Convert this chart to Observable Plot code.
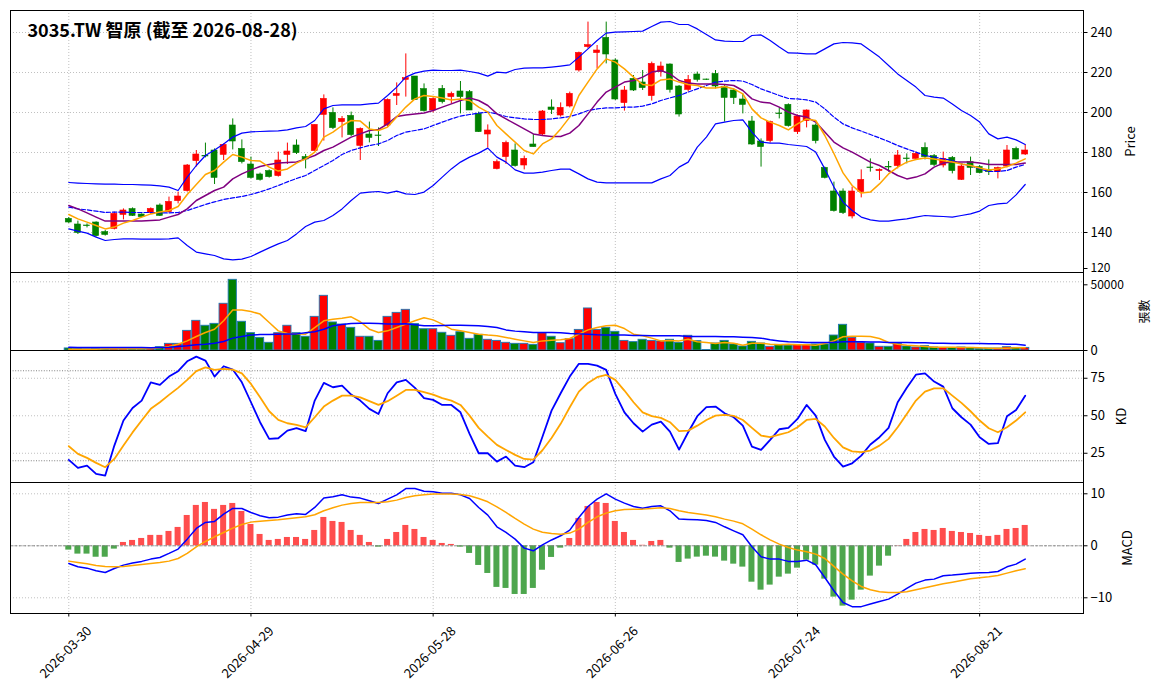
<!DOCTYPE html>
<html><head><meta charset="utf-8">
<script src="https://cdn.jsdelivr.net/npm/d3@7"></script>
<script src="https://cdn.jsdelivr.net/npm/@observablehq/plot@0.6"></script>
<style>
body{margin:0;background:#fff;}
#wrap{position:relative;width:1163px;height:698px;overflow:hidden;background:#fff;}
#wrap svg{position:absolute;left:0;overflow:visible;}
</style></head><body><div id="wrap"></div>
<script>
const title = "3035.TW 智原 (截至 2026-08-28)";
const tickIdx = [0, 20, 40, 60, 80, 100];
const tickLabels = ["2026-03-30","2026-04-29","2026-05-28","2026-06-26","2026-07-24","2026-08-21"];
const priceTicks = [120,140,160,180,200,220,240];
const volTicks = [0, 50000];
const kdTicks = [25, 50, 75];
const macdTicks = [-10, 0, 10];

const openP = [146.8,144,143.5,145,140.2,141.8,148.8,151.7,149,149.7,
153.5,150.2,155.7,160.7,175.7,178.2,181,178.8,193.5,181.8,
174,169,170.7,168.2,178.8,183.5,177.7,180.7,198.8,199.8,
195.2,198.3,183.3,189,188.5,193.5,208.3,216.3,218,211.7,
201,211.8,207.7,210.5,210.2,199.3,189,171.7,177.7,181,
173.5,184,189,202.5,198.5,203,221,232.7,229.7,237.3,
226,204.7,216.8,215,208.2,220.2,224,213,211.3,219,
216.5,219.3,212.7,211,206.5,195.5,185.5,185.7,199.5,203.8,
190.2,195.7,193.5,172.3,160.5,160.5,148,160.2,172.5,170.7,
172.8,173.2,177,176.8,182.3,178.2,173.5,177.3,166.3,175.2,
172.7,171.3,170.2,173,181.8,179];
const highP = [147.5,145.7,144.3,145.3,141,150.2,151.8,152.3,149.3,152.3,
154.3,157.7,160.2,174,181,184.7,181.8,184.3,196.8,186.3,
177.7,169.7,171.3,180.2,184.7,186.3,179,193.8,208.8,202.3,
198,200.2,192.3,195.2,192.3,206.8,214.8,229.3,218,214.3,
207.3,213.5,210.2,215.5,211,200.2,193.8,176.3,185.7,184.3,
178.2,189,201,206.3,204.8,210.2,230.2,245.2,233.5,245.2,
226.8,213,218.5,221,225.2,225.2,224.3,213.5,218.5,220.2,
216.7,221,213.5,211.8,209.3,198,186.8,195.7,202.3,204.3,
198.8,201.3,194.3,172.7,165.2,161.8,162.7,171.3,176.8,171.8,
175.5,181,179.3,180.2,184.8,179,180.2,178,174.3,177.7,
173.5,176.3,172.7,183.5,182.7,183.8];
const lowP = [144.5,139,142.3,137.7,138.2,141.3,146.3,148,147.3,149,
148,149.7,154.3,160.2,172.7,177.3,164,176,181.3,174.3,
166.8,165.7,167.2,167.7,174,179,171.8,180.7,185.7,191.5,
187.3,188,176,184.8,183,192.7,203.5,207.7,206,200.2,
199.8,204.3,204.3,199.3,201,190,182.2,171.3,174,172.7,
171.3,182.7,188.5,199,197.7,202.3,220.2,231.8,221.8,224.3,
206,200.7,210.5,211,205.7,217.7,209.7,197.7,210.2,215.2,
216,211.8,195.2,204,199.3,183.5,172.7,184.7,196.8,192.7,
189,192.3,184.3,166.8,150.2,149,146.8,157.3,170.2,166,
170.2,171.8,174.3,176.3,176.3,173,172.3,169.3,166,168.5,
169.3,168.5,166.8,172.3,176.3,178.5];
const closeP = [145,139.8,143.2,138.2,138.8,149.3,151,148.3,147.7,151.8,
148.3,155.3,158,173.5,179,178,167.3,183.8,185.5,175.2,
167.3,166.3,167.7,176,180.5,179.7,176.5,193.8,206.8,192.2,
196.8,188.7,191.8,187.3,188.3,206.3,209.3,217.2,206.3,200.7,
206.8,205.2,209.3,207.7,201,190.2,191,175.2,184.8,173.2,
176.8,182.7,200.5,201.3,202.3,209.3,229.8,233.7,231,229,
206.5,211,211,212.2,224.3,223,211.3,199,216.3,216.3,
216.3,213,207.3,207.2,203.8,184,182.7,195.2,199.2,193.2,
198,201,185.7,167.3,150.7,149.7,160.5,166.3,172.2,171.3,
172.5,178.5,176.7,179.3,177.7,173.8,176.8,170.7,173,172.3,
169.7,170.2,172.2,181,176.5,181];
const ma5 = [149,146.8,145.2,143.5,141.8,142.7,144.7,146,147.7,149.3,
150.2,151,153,159,164,169,171,175.2,179,177.7,
176,175.7,172.7,170.7,171.8,174.7,176.8,180.2,187.7,190.2,
193.5,196,195.7,191.8,191,192.7,197.7,202.7,206.8,208.5,
208,207.3,206.3,206.8,206,202.7,200.2,193.5,189.3,185.2,
181,179.3,184.3,186.8,191.8,197.7,208.5,215.2,221.8,226.8,
225.2,221.8,217.7,214,213.5,216.3,216.8,215.2,214,213.5,
212.3,212.3,213,211.8,209.3,201.8,197.3,195.2,193.5,191.3,
194.3,196.8,196,188.5,179.5,169.8,163.5,159.7,160.2,164.3,
169.3,172.7,175.2,176.5,177.2,176.8,176,175.2,174.3,173.5,
172.3,171.3,171.7,173,174.7,176.8];
const ma10 = [153.5,151.8,149.8,147.7,145.7,145.7,145.7,145.7,145.8,146,
146.3,147.7,149,151.8,156,158.5,161,162.7,166.8,169.3,
171.3,173,174,174.7,175,175.3,176.8,178.5,181,182.7,
185.2,187.7,189.3,191,191.5,194.3,198,198.8,199.3,199.8,
201,202.7,204.3,206,207.3,206,203.5,199.3,196.8,194.3,
191.8,189.3,188.5,188,188,189.7,193.5,199.3,205.2,210.2,
212.7,215.2,216,217.7,220.2,221,219.3,216,214.7,214.3,
214.3,214.3,214,213.5,211,206.8,205.2,204.7,202.7,200.2,
198.5,197.7,195.2,190.2,185.2,182.3,180.2,177.7,175.2,173.5,
171,168.5,166.8,167.7,169.3,172.7,174.7,175.2,175.2,175.2,
174.7,174,174,174,174,174.7];
const ma20 = [152.7,151.8,151.3,150.7,150,150.2,150.2,150,150,150,
149.8,149.8,150,151,152.5,154,155.3,156.5,157.3,158,
159,160.3,161.8,163.5,165.3,167,168.5,171,173.5,176,
179,181,182.3,183.5,184.3,186,188.5,190.2,191,191.8,
193.5,195.2,196.8,198.2,199,199.7,200.2,199.3,198,197.3,
196.8,196.5,196.5,196.8,197.3,198,199.3,201,201.8,202.3,
202.3,202.7,202.7,203.2,204.3,206,207.3,208.5,210.2,211.8,
213.5,215.2,215.7,216,215.7,214,211.8,210.2,208.5,207,
206.8,206.3,205.2,201.8,197.7,194.3,192.3,190.7,189,187.3,
185.5,183.5,181.8,180.2,178.5,177.7,176.8,176,174.3,173.5,
171.8,170.5,170.5,171,172.7,174];
const bbUpper = [165,164.7,164.5,164.3,164.2,164.2,164,164,163.8,163.7,
163.3,162.7,161,167.7,173.5,178.5,181.3,184.3,187.7,189.7,
190.3,190.5,190.7,190.8,191.3,192.3,193,196,201.8,203.5,
203.8,203.8,203.8,204.3,204.7,208.5,212.7,217.7,219.7,220.7,
221.2,221,221,221.2,220.5,219.7,218.2,220.2,219.8,221.5,
222.2,222.3,222.3,222.7,223.2,223.8,227.7,231.8,236,239.7,
240.2,240.3,240.5,240.7,243,245.2,245.5,244,244,241.8,
239,236.3,235.7,235.5,235.5,238.5,238.8,236,232.7,229.8,
229.7,229.3,229.3,231.8,234.3,235,234.8,234.3,231,227.7,
223.5,219.3,216,212.7,208.5,207.7,207.2,204.3,201,198.5,
195.2,189.3,186.8,187.7,186.3,184];
const bbLower = [141.8,140.7,139.7,137.7,136,136.5,136.8,136.8,136.7,136.7,
136.7,136.8,137.3,133.5,130.2,129.3,128.5,126.8,126.3,126.7,
128,130.2,132.3,134.3,136,139.3,143,145.2,146,148.5,
151.8,156,159.7,160.2,160.5,159.7,160.7,159.3,159,160.2,
163.5,167.7,171.8,175.2,177.7,179.7,182.2,177.7,175.2,171.3,
169.7,169.7,170.2,171,171.7,171.7,169.3,166.8,165.2,164.8,
164.8,164.8,164.8,164.8,164.8,166.8,168.5,172.7,175.2,182.7,
187.7,194.3,195.2,196,196.3,190.2,185.2,184.7,184.7,184,
183.5,183,180.2,171.8,162.7,155.2,151,147.7,146.3,145.7,
145.7,146.3,146.8,147.7,148.5,148.2,148,147.7,148.5,149.3,
150.7,153.5,154.3,154.7,158.8,164];
const volume = [1500,1200,900,1100,800,1300,1200,1000,900,1100,
2400,4850,4850,14300,21600,18000,19400,34000,51450,20900,
12600,9200,5600,12600,18000,12600,10000,24500,39800,20400,
18900,16500,10000,10000,7000,24500,27400,29600,19200,15500,
15500,12900,10700,13300,8500,11400,7800,7000,5600,4850,
4850,4100,12600,10000,5300,8250,15000,30600,15000,16500,
13600,7000,6100,7800,7000,6600,7800,5600,10700,6800,
300,5100,7000,4400,2900,6300,5100,2700,4100,3600,
4100,4100,4400,4400,10900,18700,9200,5600,5100,2700,
2700,4850,2900,2200,3150,2200,1900,1900,2200,1900,
1200,1450,1450,2400,1900,1900];
const volMa5 = [970,970,970,970,1200,1200,1200,1200,1200,1450,
1950,2900,4600,7000,10200,13100,15500,21600,29400,29400,
28400,26500,20400,14300,12400,12100,11900,16700,21600,22800,
23500,24500,20900,15500,13100,14300,16700,19200,21600,23800,
22300,19200,15500,14300,13100,11900,11200,10700,9500,8250,
7000,5800,7000,7500,7800,8700,11900,15000,16700,18000,
18400,16000,11900,10700,9000,7000,7300,7000,8250,6300,
5800,5100,5800,5300,3900,5300,5300,4600,4100,4600,
4100,4100,3900,5100,7000,10000,10400,10400,10200,8700,
5800,4600,3900,3400,2900,2400,2400,2400,2200,2200,
1950,1700,1700,1700,1950,1950];
const volMa20 = [2400,2200,2200,2200,2200,2200,2200,2200,2200,1950,
2200,2400,2900,3400,4100,4600,5300,6600,9000,10200,
11200,11600,11600,11900,12100,12100,12900,13600,15500,18000,
18900,19700,19900,19900,19700,19200,19200,19400,18700,18000,
18000,18200,18400,18400,18200,18000,17500,16700,15000,14100,
13600,13100,13100,13100,12900,12400,12100,11900,11400,11200,
11200,11200,10900,10900,10700,10700,10700,10700,10200,10200,
10200,10200,10000,10000,9700,9500,9000,7800,7000,6300,
6100,5800,5800,5800,5800,6300,6300,6300,6100,6100,
5800,5800,5800,5600,5600,5300,5300,5100,5100,5100,
5100,4850,4850,4600,4600,3900];
const kLine = [20.6,15.2,16.8,11.2,10.1,30.1,46.8,55.2,60.1,72.3,
70.6,76.1,79.7,86.3,89.4,86.8,76.1,83,80.8,72.3,
59,45.7,34.6,35,40.1,41.7,39.7,60.1,71.9,69,
70.1,64.1,60.1,54.6,51.2,65,72.3,73.9,68.6,61.7,
60.6,57.2,57.2,52.3,37.9,25,25,19.4,22.8,16.8,
15.7,19,36,53.4,65,76.1,84.6,84.6,83.4,80.6,
64.6,52.3,45,39.4,44.1,46.1,39.4,27.4,39,49.7,
55.7,56.1,51.7,49,43.4,29.4,27.2,33.9,41,41.9,
47.9,57.2,50.1,33.9,22.8,16.1,18.3,23.4,30.8,35.7,
41.9,59,68.6,77.4,78.3,72.8,69.4,55,49,44.1,
35.7,31.2,31.7,49.7,53.9,63.4];
const dLine = [29.7,24.6,21.9,18.6,15.7,21.2,30.1,38.9,46.8,54.6,
59,63.9,68.6,73.9,79.7,82.3,80.6,81.2,80.8,78.3,
71.2,62.3,53,47.2,45,43.9,42.3,49,56.1,60.1,
63.4,63.4,62.3,59.7,57.2,59.7,63.4,67.2,67.2,65.7,
64.1,61.7,60.1,57.2,50.1,41.9,36.1,30.6,27.2,23.9,
21.2,20.8,27,35.2,44.6,55.7,66.1,71.9,75.7,77.2,
73.9,66.8,59,52.3,49.7,48.6,45.7,39.7,40.1,43.4,
47.2,50.1,50.6,49.9,47.2,41.9,36.8,35.7,37.4,39,
42.3,47.2,47.9,42.8,35.2,28.9,26.3,25.7,26.8,30.1,
34.6,42.3,51.2,60.1,66.1,68.3,68.3,63.4,58.6,53,
46.8,41.7,39,42.3,46.8,52.3];
const dif = [-3.4,-4.04,-4.3,-4.8,-5.13,-4.36,-3.72,-3.33,-3.0,-2.56,
-2.24,-1.47,-0.64,1.28,3.33,4.49,4.68,6.09,7.18,7.18,
6.41,5.77,5.38,5.51,5.9,6.15,6.03,7.37,9.17,9.42,
9.8,9.36,9.17,8.65,8.14,8.97,9.8,11.0,11.0,10.5,
10.4,10.1,10.1,9.8,9.1,7.37,5.9,3.65,2.56,1.28,
-0.45,-0.96,0.16,1.12,1.92,3.0,5.45,7.56,8.97,10.0,
8.97,8.2,7.56,7.24,7.56,7.69,6.73,5.13,5.06,5.0,
4.87,4.49,3.65,2.88,2.12,-0.19,-2.12,-2.56,-2.56,-3.0,
-3.0,-2.76,-3.65,-6.09,-8.65,-10.9,-11.7,-11.7,-11.2,-10.7,
-10.26,-9.3,-8.2,-7.18,-6.6,-6.41,-5.77,-5.64,-5.45,-5.26,
-5.19,-5.13,-4.94,-4.04,-3.53,-2.56];
const dea = [-2.95,-3.2,-3.46,-3.78,-3.97,-4.04,-3.97,-3.78,-3.59,-3.4,
-3.2,-2.95,-2.44,-1.47,-0.19,0.83,1.73,2.56,3.4,4.1,
4.55,4.74,4.87,5.0,5.19,5.38,5.58,5.96,6.73,7.31,
7.82,8.14,8.33,8.33,8.33,8.46,8.78,9.3,9.62,9.8,
9.94,9.94,9.94,9.87,9.62,9.1,8.46,7.5,6.41,5.26,
4.17,3.2,2.6,2.37,2.24,2.44,3.2,4.49,5.58,6.28,
6.73,6.99,7.05,7.05,7.18,7.31,7.18,6.73,6.41,6.15,
5.9,5.58,5.13,4.74,4.23,3.2,2.12,1.15,0.32,-0.32,
-0.83,-1.15,-1.6,-2.44,-3.97,-5.45,-6.73,-7.82,-8.46,-8.85,
-8.97,-8.97,-8.85,-8.46,-8.08,-7.69,-7.31,-7.0,-6.67,-6.35,
-6.15,-5.96,-5.7,-5.26,-4.81,-4.42];
const macdHist = [-0.83,-1.6,-1.6,-2.2,-2.2,-0.64,0.64,1.03,1.41,2.0,
2.0,2.76,3.53,5.83,7.76,8.33,7.0,7.76,8.14,6.6,
4.1,2.18,1.03,1.22,1.6,1.6,1.22,2.95,5.45,4.68,
4.49,2.95,2.0,0.64,-0.26,1.22,2.56,3.91,3.14,1.6,
1.03,0.45,0.26,-0.26,-1.47,-3.78,-5.32,-8.0,-8.2,-9.36,
-9.36,-8.2,-4.7,-2.24,-0.45,1.41,5.26,7.56,8.33,8.14,
4.68,2.56,1.03,0.1,0.83,1.03,-0.45,-3.2,-2.56,-2.18,
-2.0,-2.18,-2.95,-3.53,-4.1,-7.0,-8.53,-7.56,-6.03,-5.45,
-4.3,-2.76,-3.72,-6.41,-9.87,-11.6,-10.45,-8.53,-5.83,-3.91,
-2.0,0.05,1.22,2.56,3.14,2.95,3.33,2.76,2.56,2.37,
2.0,1.8,2.0,3.14,3.33,3.91];

const rows = closeP.map((c, i) => ({
  i, o: openP[i], h: highP[i], l: lowP[i], c,
  up: c >= openP[i], vol: volume[i], vma5: volMa5[i], vma20: volMa20[i],
  ma5: ma5[i], ma10: ma10[i], ma20: ma20[i], bu: bbUpper[i], bl: bbLower[i],
  k: kLine[i], d: dLine[i], dif: dif[i], dea: dea[i], hist: macdHist[i]
}));

const FONT = '"Noto Sans CJK TC", "Noto Sans", sans-serif';
const W = 1163, ML = 10, MR = 80;
const xDomain = [-6.4, 111.4];
const gridStyle = {stroke: "#b0b0b0", strokeWidth: 0.8, strokeDasharray: "1,2"};
const candleColor = d => d.up ? "red" : "green";

function opts(height, mt, mb, yDomain, marks) {
  return {
    width: W, height, marginLeft: ML, marginRight: MR, marginTop: mt, marginBottom: mb,
    x: {type: "linear", domain: xDomain, axis: null},
    y: {type: "linear", domain: yDomain, axis: null},
    style: {background: "transparent", overflow: "visible", fontFamily: FONT, fontSize: "13px", color: "black"},
    marks
  };
}
const minusFmt = d => (d < 0 ? "\u2212" + Math.abs(d) : String(d));
function yAxis(ticks, fmt, dy, size) {
  return Plot.axisY(ticks, {anchor: "right", tickSize: 3.5, tickPadding: 3.5, label: null, fontSize: size || 13,
    tickFormat: fmt || minusFmt, dy: dy || 0});
}
function yLabel(txt, dx, size) {
  return Plot.text([txt], {text: d => d, frameAnchor: "right", dx, rotate: -90, textAnchor: "middle", lineAnchor: "middle", fontSize: size || 13, fill: "black"});
}

const wrap = document.getElementById("wrap");
function place(svg, top) { svg.style.top = top + "px"; svg.style.overflow = "visible"; wrap.appendChild(svg); }

// Price panel
place(Plot.plot(opts(272, 10, 0, [120, 251], [
  Plot.ruleX(tickIdx, {x: d => d, ...gridStyle}),
  Plot.ruleY(priceTicks, {y: d => d, ...gridStyle}),
  Plot.ruleX(rows, {x: "i", y1: "l", y2: "h", stroke: candleColor, strokeWidth: 1}),
  Plot.rect(rows, {x1: d => d.i - 0.33, x2: d => d.i + 0.33, y1: "o", y2: "c", fill: candleColor, stroke: candleColor, strokeWidth: 0.6}),
  Plot.line(rows, {x: "i", y: "bu", stroke: "#0000ff", strokeWidth: 1.2}),
  Plot.line(rows, {x: "i", y: "bl", stroke: "#0000ff", strokeWidth: 1.2}),
  Plot.line(rows, {x: "i", y: "ma20", stroke: "#0000ff", strokeWidth: 1.2, strokeDasharray: "4.4,1.9"}),
  Plot.line(rows, {x: "i", y: "ma10", stroke: "#800080", strokeWidth: 1.5}),
  Plot.line(rows, {x: "i", y: "ma5", stroke: "#ffa500", strokeWidth: 1.5}),
  Plot.frame({stroke: "black", strokeWidth: 1}),
  yAxis(priceTicks.filter(t => t !== 120)),
  yAxis([120], null, -4, 12),
  yLabel("Price", 47),
  Plot.text([title], {text: d => d, frameAnchor: "top-left", dx: 17, dy: 21, lineAnchor: "middle", textAnchor: "start", fontSize: 18, fontWeight: "bold", fill: "black"})
])), 0);

// Volume panel
place(Plot.plot(opts(78, 0, 0, [0, 56770], [
  Plot.ruleX(tickIdx, {x: d => d, ...gridStyle}),
  Plot.ruleY(volTicks, {y: d => d, ...gridStyle}),
  Plot.rect(rows, {x1: d => d.i - 0.45, x2: d => d.i + 0.45, y1: 0, y2: "vol", fill: candleColor, stroke: "#1f77b4", strokeWidth: 0.9}),
  Plot.line(rows, {x: "i", y: "vma5", stroke: "#ffa500", strokeWidth: 1.5}),
  Plot.line(rows, {x: "i", y: "vma20", stroke: "#0000ff", strokeWidth: 1.5}),
  Plot.frame({stroke: "black", strokeWidth: 1}),
  yAxis([0], d => String(d)),
  yAxis([50000], d => String(d), 3, 12),
  yLabel("張數", 62, 12)
])), 272);

// KD panel
place(Plot.plot(opts(132, 0, 0, [5.5, 93.5], [
  Plot.ruleX(tickIdx, {x: d => d, ...gridStyle}),
  Plot.ruleY(kdTicks, {y: d => d, ...gridStyle}),
  Plot.ruleY([80, 20], {y: d => d, stroke: "#808080", strokeWidth: 1, strokeDasharray: "1,1.6"}),
  Plot.line(rows, {x: "i", y: "k", stroke: "#0000ff", strokeWidth: 1.8}),
  Plot.line(rows, {x: "i", y: "d", stroke: "#ffa500", strokeWidth: 1.8}),
  Plot.frame({stroke: "black", strokeWidth: 1}),
  yAxis(kdTicks),
  yLabel("KD", 38)
])), 350);

// MACD panel
place(Plot.plot(opts(216, 0, 85, [-13.02, 12.17], [
  Plot.ruleX(tickIdx, {x: d => d, ...gridStyle}),
  Plot.ruleY(macdTicks, {y: d => d, ...gridStyle}),
  Plot.rect(rows, {x1: d => d.i - 0.33, x2: d => d.i + 0.33, y1: 0, y2: "hist", fill: d => d.hist >= 0 ? "#ff4d4d" : "#4da64d"}),
  Plot.ruleY([0], {y: d => d, stroke: "#808080", strokeWidth: 0.9, strokeDasharray: "3,1.4"}),
  Plot.line(rows, {x: "i", y: "dif", stroke: "#0000ff", strokeWidth: 1.5}),
  Plot.line(rows, {x: "i", y: "dea", stroke: "#ffa500", strokeWidth: 1.5}),
  Plot.frame({stroke: "black", strokeWidth: 1}),
  yAxis(macdTicks),
  yLabel("MACD", 44),
  Plot.axisX(tickIdx, {anchor: "bottom", tickSize: 3.5, tickFormat: () => "", label: null}),
  Plot.text(tickIdx, {x: d => d, text: d => tickLabels[tickIdx.indexOf(d)], frameAnchor: "bottom", dx: -3, dy: 39, rotate: -45, textAnchor: "middle", lineAnchor: "middle", fontSize: 13, fill: "black"})
])), 482);
</script></body></html>
